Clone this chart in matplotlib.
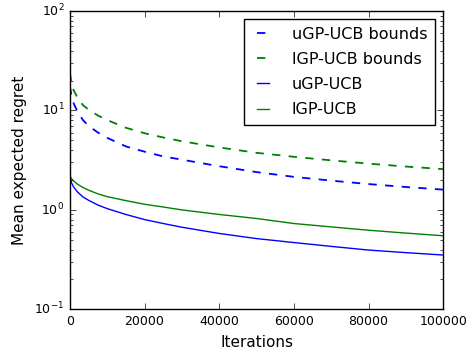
"""
Mean expected regret vs iterations, uGP-UCB vs lGP-UCB with bounds.
"""

import numpy as np
import matplotlib
matplotlib.use('Agg')
import matplotlib.pyplot as plt

plt.style.use('classic')
plt.rcParams.update({
    'font.family': 'DejaVu Sans',
    'figure.facecolor': 'white',
    'savefig.facecolor': 'white',
    'xtick.labelsize': 9,
    'ytick.labelsize': 9,
    'axes.labelsize': 11,
    'legend.fontsize': 11.5,
})

# values
iterations = [0, 500, 1000, 2000, 3500, 5000, 7500, 10000, 15000, 20000, 25000,
              30000, 40000, 50000, 60000, 70000, 80000, 90000, 100000]
ugp_bounds = [17.5, 13.5, 11.8, 9.8, 8.0, 7.0, 6.0, 5.3, 4.35, 3.85, 3.45,
              3.2, 2.75, 2.4, 2.15, 1.97, 1.82, 1.70, 1.60]
lgp_bounds = [24.0, 18.0, 16.0, 13.5, 11.3, 10.2, 8.9, 8.0, 6.7, 5.9, 5.35,
              4.9, 4.25, 3.75, 3.42, 3.15, 2.92, 2.73, 2.57]
ugp_regret = [2.15, 1.85, 1.70, 1.52, 1.35, 1.25, 1.12, 1.03, 0.90, 0.80, 0.73,
              0.67, 0.58, 0.515, 0.47, 0.43, 0.395, 0.372, 0.352]
lgp_regret = [2.2, 2.05, 1.95, 1.82, 1.68, 1.58, 1.45, 1.36, 1.24, 1.14, 1.07,
              1.00, 0.90, 0.82, 0.73, 0.675, 0.625, 0.585, 0.55]

fig = plt.figure(figsize=(4.66, 3.54), dpi=100)
ax = fig.add_axes([0.150, 0.126, 0.801, 0.843])

ax.plot(iterations, ugp_bounds, 'b--', linewidth=1.3, label='uGP-UCB bounds')
ax.plot(iterations, lgp_bounds, 'g--', linewidth=1.3, label='lGP-UCB bounds')
ax.plot(iterations, ugp_regret, 'b-', linewidth=1.0, label='uGP-UCB')
ax.plot(iterations, lgp_regret, 'g-', linewidth=1.0, label='lGP-UCB')

ax.set_yscale('log')
ax.set_ylim(0.1, 100)
ax.set_xlim(0, 100000)
ax.set_xticks([0, 20000, 40000, 60000, 80000, 100000])
ax.ticklabel_format(axis='x', style='plain')
ax.set_xlabel('Iterations')
ax.set_ylabel('Mean expected regret')
ax.legend(loc='upper right', handlelength=1.4, handletextpad=1.1,
          labelspacing=0.63, borderpad=0.5, borderaxespad=0.5)

plt.savefig('out.png', dpi=100)
